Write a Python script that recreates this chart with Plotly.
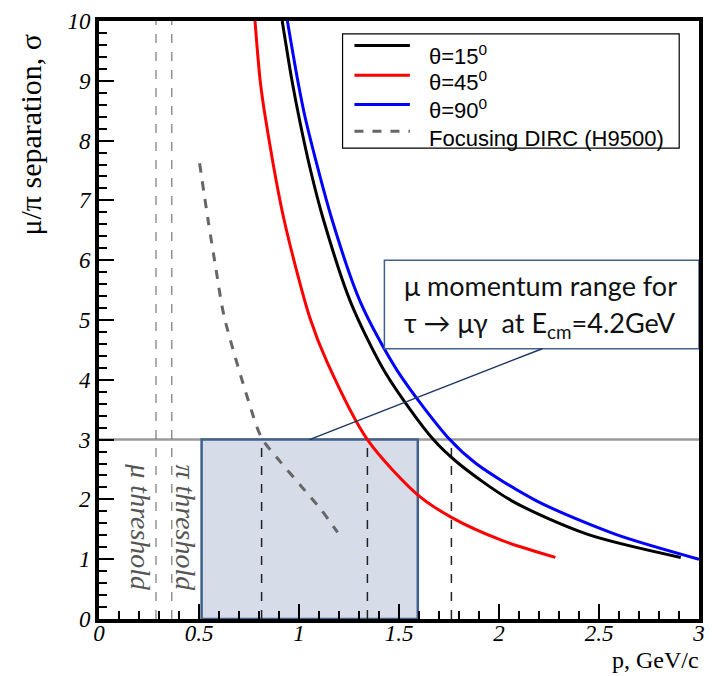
import plotly.graph_objects as go

# ---------------- data ----------------
p_15 = [0.916, 0.965, 1.003, 1.058, 1.122, 1.258, 1.435, 1.672, 1.798, 2.062, 2.440, 2.909]
s_15 = [10.0, 9.0, 8.34, 7.5, 6.68, 5.30, 4.10, 3.0, 2.60, 1.98, 1.42, 1.03]

p_45 = [0.780, 0.806, 0.834, 0.925, 1.056, 1.140, 1.342, 1.589, 1.762, 2.018, 2.282]
s_45 = [10.0, 9.0, 8.34, 6.68, 5.02, 4.30, 3.0, 2.09, 1.70, 1.31, 1.03]

p_90 = [0.942, 0.994, 1.034, 1.165, 1.307, 1.492, 1.754, 1.885, 2.185, 2.580, 3.000]
s_90 = [10.0, 9.0, 8.34, 6.68, 5.30, 4.15, 3.0, 2.60, 1.98, 1.42, 1.0]

p_dirc = [0.503, 0.545, 0.585, 0.625, 0.748, 0.813, 0.904, 1.011, 1.110, 1.193]
s_dirc = [7.62, 6.68, 5.85, 5.07, 3.64, 3.03, 2.64, 2.22, 1.83, 1.45]

thresholds_p = [0.285, 0.364]            # mu, pi Cherenkov thresholds
threshold_labels = ["μ threshold", "π threshold"]
crossing_p = [0.813, 1.342, 1.762]       # p where curves cross 3 sigma
sigma_level = 3.0
mom_window = [0.513, 1.594]              # mu momentum range for tau -> mu gamma

legend_names = ["θ=15<sup>0</sup>", "θ=45<sup>0</sup>", "θ=90<sup>0</sup>", "Focusing DIRC (H9500)"]
x_ticks = [0, 0.5, 1, 1.5, 2, 2.5, 3]
y_ticks = list(range(0, 11))

# ---------------- figure ----------------
W, H = 714, 676
L, R, T, B = 99, 9, 17, 57
PW, PH = W - L - R, H - T - B


def px(x):
    return (x - L) / PW


def py(y):
    return (H - B - y) / PH


fig = go.Figure()
series = [(p_15, s_15, "black", "solid"), (p_45, s_45, "#ff0000", "solid"),
          (p_90, s_90, "#0000ff", "solid"), (p_dirc, s_dirc, "#666666", "dash")]
for (xs, ys, col, dash), nm in zip(series, legend_names):
    fig.add_trace(go.Scatter(x=xs, y=ys, mode="lines", name=nm, showlegend=False,
                             line=dict(color=col, width=3, dash=dash, shape="spline", smoothing=0.8)))

shapes = []
shapes.append(dict(type="line", xref="x", yref="y", x0=0, x1=3, y0=sigma_level, y1=sigma_level,
                   line=dict(color="#9a9a9a", width=2.5), layer="below"))
shapes.append(dict(type="rect", xref="x", yref="y", x0=mom_window[0], x1=mom_window[1], y0=0, y1=sigma_level,
                   fillcolor="#d6dde8", line=dict(color="#41618c", width=2.5), layer="below"))
for xv in thresholds_p:
    shapes.append(dict(type="line", xref="x", yref="y", x0=xv, x1=xv, y0=0, y1=10,
                       line=dict(color="#777777", width=1.2, dash="dash"), layer="below"))
for xv in crossing_p:
    shapes.append(dict(type="line", xref="x", yref="y", x0=xv, x1=xv, y0=0, y1=sigma_level,
                       line=dict(color="#222222", width=1.5, dash="dash"), layer="below"))
shapes.append(dict(type="rect", xref="x", yref="y", x0=1.427, x1=3.0, y0=4.52, y1=6.0,
                   fillcolor="white", line=dict(color="#41618c", width=1.5), layer="above"))
shapes.append(dict(type="line", xref="x", yref="y", x0=1.052, y0=sigma_level, x1=2.216, y1=4.52,
                   line=dict(color="#1f3864", width=1.5), layer="above"))
shapes.append(dict(type="rect", xref="paper", yref="paper", x0=px(345), x1=px(685), y0=py(145), y1=py(30),
                   fillcolor="white", line=dict(color="black", width=1.2), layer="above"))
leg_line_y = [41.7, 71.7, 101, 128]
leg_text_y = [51, 77, 105.5, 135]
for (xs, ys, col, dash), ly in zip(series, leg_line_y):
    shapes.append(dict(type="line", xref="paper", yref="paper", x0=px(357), x1=px(413), y0=py(ly), y1=py(ly),
                       line=dict(color=col, width=3, dash=dash), layer="above"))

annotations = []
for nm, ty in zip(legend_names, leg_text_y):
    annotations.append(dict(xref="paper", yref="paper", x=px(430), y=py(ty), xanchor="left", yanchor="middle",
                            text=nm, showarrow=False,
                            font=dict(family="Liberation Sans, Arial", size=22, color="black")))
for xv, lab in zip([0.206, 0.43], threshold_labels):
    annotations.append(dict(xref="x", yref="y", x=xv, y=1.53, text="<i>" + lab + "</i>", textangle=90,
                            xanchor="center", yanchor="middle",
                            showarrow=False, font=dict(family="Liberation Serif", size=28, color="#555555")))
annotations.append(dict(xref="x", yref="y", x=1.515, y=5.58, xanchor="left", yanchor="middle",
                        text="μ momentum range for", showarrow=False,
                        font=dict(family="Lato", size=27, color="#111111")))
annotations.append(dict(xref="x", yref="y", x=1.515, y=4.93, xanchor="left", yanchor="middle",
                        text="τ → μγ  at E<sub>cm</sub>=4.2GeV", showarrow=False,
                        font=dict(family="Lato", size=27, color="#111111")))
annotations.append(dict(xref="paper", yref="paper", x=px(30), y=py(28), textangle=-90,
                        xanchor="center", yanchor="top",
                        text="μ/π separation, σ", showarrow=False,
                        font=dict(family="Liberation Serif", size=30, color="black")))
annotations.append(dict(xref="paper", yref="paper", x=px(707), y=py(660), xanchor="right", yanchor="middle",
                        text="p, GeV/c", showarrow=False,
                        font=dict(family="Liberation Serif", size=24, color="black")))

tickfont = dict(family="Liberation Serif", size=23, color="black")
fig.update_layout(
    width=W, height=H, margin=dict(l=L, r=R, t=T, b=B),
    paper_bgcolor="white", plot_bgcolor="white",
    shapes=shapes, annotations=annotations, showlegend=False,
    xaxis=dict(range=[0, 3], tickvals=x_ticks, ticktext=[f"<i>{v:g}</i>" for v in x_ticks],
               ticks="inside", ticklen=15, tickwidth=1.5, tickcolor="black", ticklabelstandoff=-10,
               minor=dict(dtick=0.1, tick0=0, ticks="inside", ticklen=8, tickwidth=1.5, tickcolor="black"),
               showline=True, linewidth=4, linecolor="black", mirror=True,
               showgrid=False, zeroline=False, tickfont=tickfont),
    yaxis=dict(range=[0, 10], tickvals=y_ticks, ticktext=[f"<i>{v}</i>" for v in y_ticks],
               ticks="inside", ticklen=15, tickwidth=1.5, tickcolor="black",
               minor=dict(dtick=0.2, tick0=0, ticks="inside", ticklen=8, tickwidth=1.5, tickcolor="black"),
               showline=True, linewidth=4, linecolor="black", mirror=True,
               showgrid=False, zeroline=False, tickfont=tickfont),
)

fig.write_html("out.html", config={"displayModeBar": False})

# remove the default page margin so the figure sits at the window's top-left
with open("out.html", "r", encoding="utf-8") as f:
    html = f.read()
html = html.replace("<head>", "<head><style>html,body{margin:0;padding:0;}</style>", 1)
with open("out.html", "w", encoding="utf-8") as f:
    f.write(html)
